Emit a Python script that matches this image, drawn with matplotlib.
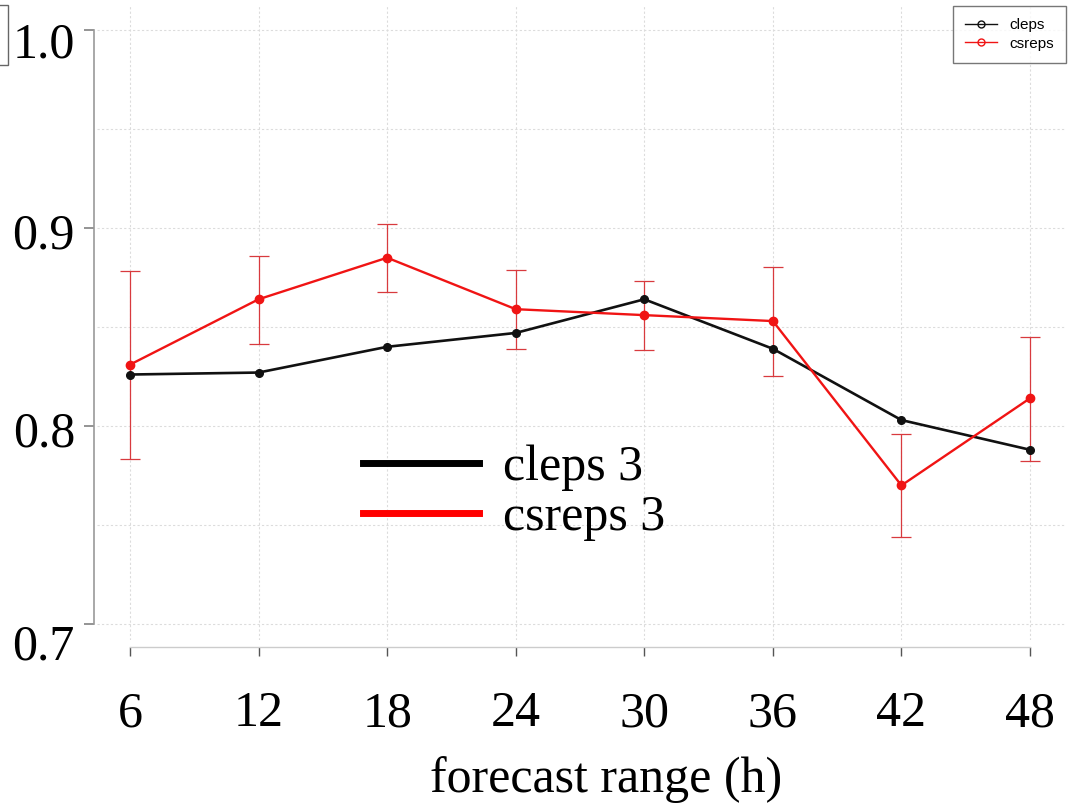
import matplotlib
matplotlib.use("Agg")
import matplotlib.pyplot as plt
import matplotlib.transforms as mtransforms
from matplotlib.lines import Line2D
from matplotlib.patches import Rectangle

# forecast lead times and scores
hours = [6, 12, 18, 24, 30, 36, 42, 48]
cleps = [0.826, 0.827, 0.840, 0.847, 0.864, 0.839, 0.803, 0.788]
csreps = [0.831, 0.864, 0.885, 0.859, 0.856, 0.853, 0.770, 0.814]
csreps_low = [0.7835, 0.8416, 0.8678, 0.8389, 0.8384, 0.8253, 0.7441, 0.7825]
csreps_high = [0.8783, 0.8860, 0.9019, 0.8788, 0.8732, 0.8805, 0.7960, 0.8451]

y_major = [0.7, 0.8, 0.9, 1.0]
y_minor = [0.75, 0.85, 0.95]
y_labels = ["0.7", "0.8", "0.9", "1.0"]

W, H = 1073, 806
fig = plt.figure(figsize=(W / 100, H / 100), dpi=100)
ax = fig.add_axes([97 / W, 1 - 640 / H, (1065 - 97) / W, (640 - 5) / H])

serif = "Liberation Serif"
fs = 36

ax.set_xlim(4.46, 49.633)
ax.set_ylim(0.69192, 1.01263)

# grid
ax.set_xticks(hours)
ax.set_yticks(y_major)
ax.set_yticks(y_minor, minor=True)
ax.grid(True, which="both", color="#dcdcdc", linestyle=(0, (2, 2)), linewidth=0.8)
ax.set_axisbelow(True)

# error bars and lines
lo = [c - l for c, l in zip(csreps, csreps_low)]
hi = [h - c for c, h in zip(csreps, csreps_high)]
ax.errorbar(hours, csreps, yerr=[lo, hi], fmt="none", ecolor="#d83a3e",
            elinewidth=0.9, capsize=7, capthick=0.9, zorder=2)
ax.plot(hours, cleps, color="#111111", linewidth=1.9, marker="o",
        markersize=5.5, zorder=3)
ax.plot(hours, csreps, color="#f01414", linewidth=1.7, marker="o",
        markersize=6, zorder=4)

# spines
for s in ["top", "right"]:
    ax.spines[s].set_visible(False)
ax.spines["left"].set_position(("outward", 2.2))
ax.spines["left"].set_bounds(0.7, 1.0)
ax.spines["left"].set_color("#999999")
ax.spines["left"].set_linewidth(1.2)
ax.spines["bottom"].set_position(("outward", 5))
ax.spines["bottom"].set_bounds(6, 48)
ax.spines["bottom"].set_color("#cccccc")
ax.spines["bottom"].set_linewidth(1.0)

ax.tick_params(axis="y", which="major", length=7.2, width=1.1, color="#777777", pad=6.5)
ax.tick_params(axis="y", which="minor", length=0)
ax.tick_params(axis="x", length=6.5, width=1.0, color="#555555", pad=25)
ax.set_xticklabels([str(h) for h in hours], fontsize=fs, family=serif)
ax.set_yticklabels(y_labels, fontsize=fs, family=serif)

# nudge the y labels down a little
nudges = [-18, -3, -3, -10]
for lab, dy in zip(ax.get_yticklabels(), nudges):
    lab.set_transform(lab.get_transform()
                      + mtransforms.ScaledTranslation(0, dy / 100, fig.dpi_scale_trans))

ax.set_xlabel("forecast range (h)", fontsize=fs, family=serif)
ax.xaxis.set_label_coords(0.526, -0.182)

# small legend, top right
small = [Line2D([], [], color="#111111", lw=1, marker="o", markersize=5,
                markerfacecolor="none", markeredgewidth=1),
         Line2D([], [], color="#f01414", lw=1, marker="o", markersize=5,
                markerfacecolor="none", markeredgewidth=1)]
leg1 = ax.legend(small, ["cleps", "csreps"], loc="upper right",
                 bbox_to_anchor=(1066 / W, 1 - 6 / H), bbox_transform=fig.transFigure,
                 prop={"family": "Liberation Sans", "size": 11},
                 frameon=True, fancybox=False, edgecolor="#555555",
                 borderpad=0.8, borderaxespad=0, handlelength=2.1,
                 handletextpad=0.8, labelspacing=0.3)
leg1.get_frame().set_linewidth(1.0)
ax.add_artist(leg1)

# large legend in the middle
big = [Line2D([], [], color="black", lw=5), Line2D([], [], color="#ff0000", lw=5)]
leg2 = ax.legend(big, ["cleps 3", "csreps 3"], loc="center left",
                 bbox_to_anchor=(363 / W, 1 - 493 / H), bbox_transform=fig.transFigure,
                 prop={"family": serif, "size": fs}, frameon=False,
                 borderpad=0, borderaxespad=0, handlelength=2.32,
                 handletextpad=0.48, labelspacing=0.07)

# edge of the neighbouring panel's box
fig.add_artist(Rectangle((-5 / W, 1 - 65 / H), 13 / W, 60 / H, transform=fig.transFigure,
                         facecolor="none", edgecolor="#666666", linewidth=1.0))

fig.savefig("out.png", dpi=100)
